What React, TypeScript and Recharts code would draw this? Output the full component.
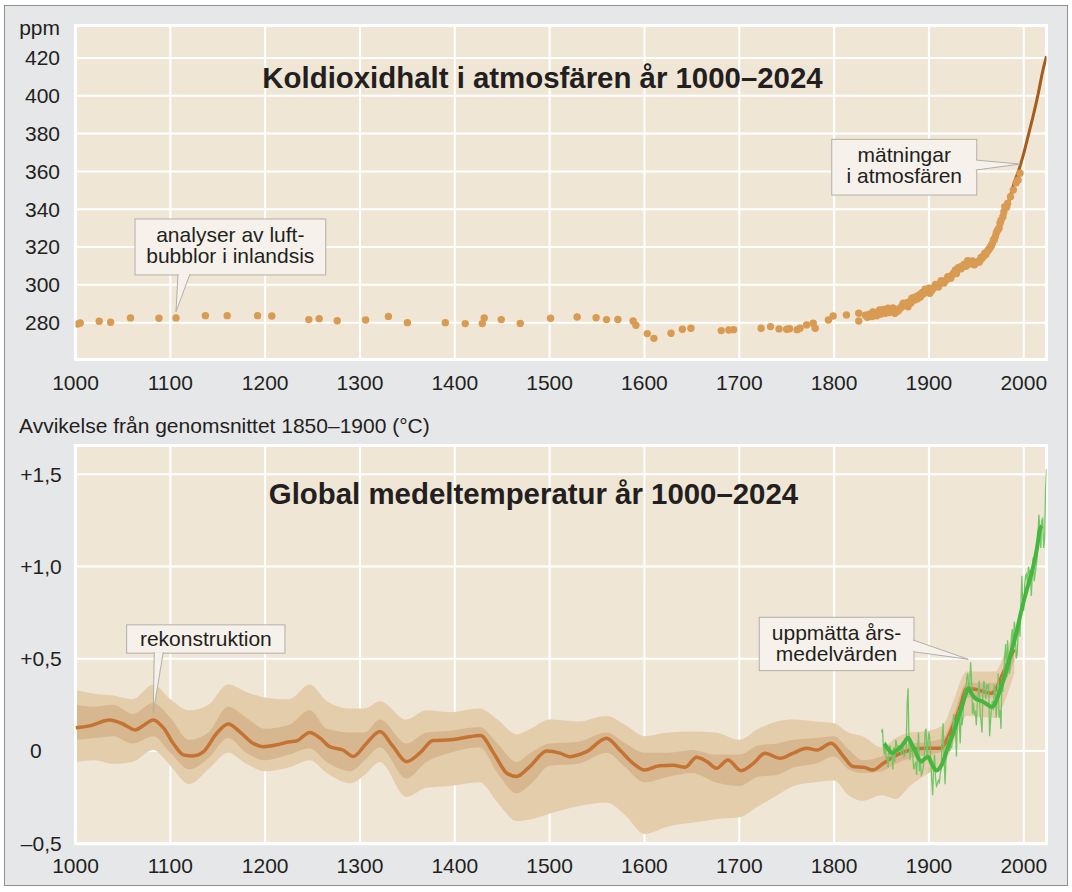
import React from 'react';
import {
  ComposedChart,
  Line,
  Area,
  Scatter,
  XAxis,
  YAxis,
  CartesianGrid,
  ReferenceArea,
  ReferenceDot,
} from 'recharts';

const FONT = '"Liberation Sans", Arial, Helvetica, sans-serif';
const INK = '#231f20';
const FRAME_BG = '#e6e7e8';
const PLOT_BG = '#efe6d6';
const BOX_BG = '#f6f2eb';
const BOX_EDGE = '#b3afa8';

const yearTicks = [1000, 1100, 1200, 1300, 1400, 1500, 1600, 1700, 1800, 1900, 2000];

// --- koldioxid ---
const co2Ticks = [280, 300, 320, 340, 360, 380, 400, 420];

// luftbubblor i inlandsis (punkter)
const iceYears = [
  1002, 1005, 1025, 1037, 1058, 1088, 1106, 1137, 1160, 1192, 1207, 1246, 1257, 1276,
  1306, 1330, 1350, 1390, 1411, 1429, 1431, 1449, 1469, 1501, 1529, 1549, 1560, 1572,
  1588, 1591, 1603, 1610, 1628, 1640, 1649, 1681, 1689, 1694, 1723, 1733, 1742, 1750,
  1753, 1761, 1764, 1771, 1778, 1780, 1794, 1799, 1813, 1826, 1826, 1833, 1837, 1840,
  1843, 1846, 1848, 1851, 1854, 1857, 1860, 1863, 1866, 1869, 1872, 1873, 1877, 1880,
  1882, 1885, 1887, 1890, 1893, 1896, 1899, 1901, 1904, 1906, 1909, 1912, 1914, 1917,
  1919, 1921, 1924, 1926, 1928, 1930, 1933, 1935, 1938, 1940, 1942, 1944, 1947, 1949,
  1952, 1954, 1956, 1959, 1961, 1963, 1964, 1966, 1968, 1970, 1971, 1973, 1975, 1978,
  1980, 1983, 1986, 1989, 1992, 1994, 1996,
  1835, 1841, 1845, 1849, 1852, 1855, 1858, 1862, 1864, 1868, 1871, 1875, 1878, 1881,
  1884, 1888, 1891, 1894, 1897, 1900, 1903, 1907, 1910, 1913, 1916, 1920, 1923, 1927,
  1929, 1931, 1934, 1937, 1939, 1941, 1943, 1946, 1948, 1950, 1953, 1955, 1957, 1958,
  1960, 1962, 1965, 1967, 1969, 1972, 1974, 1976, 1979, 1982,
];
const icePpm = [
  279.3, 279.8, 280.7, 280.2, 282.5, 282.3, 282.5, 283.7, 283.7, 283.7, 283.5, 281.6, 282.1, 281.0,
  281.4, 283.3, 280.0, 280.0, 279.5, 279.5, 282.5, 281.6, 279.6, 282.3, 283.0, 282.6, 281.6, 281.7,
  280.9, 278.6, 274.2, 271.7, 274.4, 276.5, 277.0, 275.8, 276.1, 276.3, 277.0, 277.9, 276.7, 276.5,
  276.8, 276.3, 277.0, 278.8, 279.7, 277.0, 281.4, 283.5, 284.1, 285.0, 280.9, 283.9, 284.5, 283.2,
  284.8, 285.4, 286.7, 285.9, 285.0, 287.6, 286.5, 286.2, 285.8, 287.5, 289.0, 290.3, 290.5, 291.2,
  292.9, 292.0, 293.8, 294.8, 296.0, 297.7, 296.5, 295.5, 298.0, 299.0, 299.6, 300.8, 301.5, 302.0,
  302.9, 303.8, 305.0, 306.2, 307.9, 308.0, 309.3, 309.8, 310.6, 311.7, 311.9, 312.3, 311.0, 311.5,
  312.4, 313.2, 314.0, 316.7, 317.2, 318.6, 319.4, 321.0, 323.7, 325.4, 327.3, 329.5, 332.6, 336.0,
  341.4, 343.0, 346.6, 350.2, 354.0, 355.5, 359.0,
  282.8, 285.6, 283.6, 284.5, 287.0, 286.2, 285.4, 287.8, 285.0, 286.4, 288.2, 289.2, 288.4, 290.4,
  293.2, 292.6, 293.5, 295.2, 296.0, 298.2, 297.0, 300.2, 298.8, 302.2, 301.0, 304.3, 303.5, 306.8,
  306.0, 309.0, 308.5, 310.8, 309.8, 312.8, 311.0, 312.6, 310.6, 311.8, 312.0, 314.5, 314.8, 315.5,
  316.0, 318.0, 320.0, 322.0, 324.0, 328.5, 330.0, 334.0, 338.5, 341.0,
];

// mätningar i atmosfären (linje)
const airYears = [1975, 1980, 1985, 1990, 1995, 2000, 2005, 2010, 2015, 2020, 2024];
const airPpm = [331, 338.5, 345.5, 354, 361, 369.5, 379.5, 389.5, 400.5, 413, 421];

// --- temperatur ---
const tempTicks = [-0.5, 0, 0.5, 1.0, 1.5];

const reconYears = [
  1000, 1015, 1036, 1050, 1063, 1071, 1082, 1093, 1103, 1114, 1124, 1135, 1149, 1161, 1173,
  1187, 1198, 1212, 1226, 1233, 1247, 1258, 1268, 1282, 1293, 1307, 1321, 1335, 1349, 1363,
  1377, 1395, 1412, 1427, 1441, 1455, 1465, 1479, 1497, 1511, 1521, 1539, 1560, 1574, 1588,
  1600, 1616, 1630, 1643, 1655, 1666, 1676, 1688, 1702, 1715, 1727, 1743, 1757, 1771, 1782,
  1797, 1810, 1820, 1831, 1841, 1852, 1866, 1880, 1894, 1912, 1922, 1933, 1940, 1949, 1966,
  1970, 1978, 1987, 1990,
];
const reconTemp = [
  0.126, 0.136, 0.168, 0.146, 0.114, 0.136, 0.168, 0.123, 0.042, -0.022, -0.027, -0.004, 0.096, 0.146, 0.105,
  0.042, 0.023, 0.033, 0.05, 0.054, 0.1, 0.069, 0.023, 0.005, -0.03, 0.042, 0.105, 0.023, -0.058, -0.012,
  0.056, 0.06, 0.074, 0.083, -0.012, -0.121, -0.139, -0.085, 0, -0.012, -0.031, -0.004, 0.069, 0.005, -0.067,
  -0.103, -0.08, -0.078, -0.088, -0.034, -0.058, -0.094, -0.049, -0.107, -0.067, -0.012, -0.04, -0.012, 0.015, 0.005,
  0.042, -0.031, -0.085, -0.088, -0.103, -0.067, -0.022, 0.005, 0.015, 0.015, 0.096, 0.24, 0.34, 0.334, 0.313,
  0.33, 0.42, 0.52, 0.55,
];

const bandYears = [
  1000, 1020, 1040, 1060, 1082, 1100, 1120, 1140, 1161, 1180, 1200, 1225, 1247, 1265, 1290,
  1305, 1321, 1349, 1370, 1395, 1426, 1445, 1465, 1480, 1500, 1530, 1560, 1580, 1600, 1625,
  1650, 1675, 1700, 1720, 1740, 1757, 1780, 1800, 1815, 1830, 1850, 1865, 1880, 1900, 1915,
  1925, 1940, 1970, 1980, 1990,
];
const outerLow = [
  -0.06, -0.05, -0.07, -0.06, 0.005, -0.08, -0.18, -0.1, -0.01, -0.07, -0.11, -0.09, -0.05, -0.12, -0.175,
  -0.13, -0.06, -0.25, -0.2, -0.19, -0.17, -0.28, -0.38, -0.37, -0.34, -0.3, -0.28, -0.35, -0.45, -0.41,
  -0.39, -0.37, -0.36, -0.3, -0.24, -0.19, -0.17, -0.16, -0.24, -0.27, -0.24, -0.26, -0.19, -0.12, -0.08,
  0.03, 0.19, 0.18, 0.27, 0.42,
];
const innerLow = [
  0.06, 0.07, 0.08, 0.04, 0.08, -0.01, -0.1, -0.04, 0.07, -0.01, -0.05, -0.02, 0.015, -0.06, -0.11,
  -0.05, 0.02, -0.15, -0.06, -0.01, 0.02, -0.12, -0.23, -0.18, -0.08, -0.07, -0.01, -0.09, -0.17, -0.14,
  -0.12, -0.17, -0.19, -0.14, -0.13, -0.09, -0.07, -0.03, -0.1, -0.12, -0.11, -0.07, -0.04, -0.02, 0.0,
  0.1, 0.29, 0.29, 0.37, 0.49,
];
const innerHigh = [
  0.25, 0.24, 0.25, 0.2, 0.26, 0.18, 0.06, 0.1, 0.24, 0.18, 0.12, 0.14, 0.22, 0.12, 0.1,
  0.1, 0.17, 0.04, 0.1, 0.11, 0.13, 0.04, -0.06, -0.01, 0.04, 0.05, 0.1, 0.04, -0.01, -0.01,
  0.005, -0.02, -0.02, 0.03, 0.04, 0.06, 0.07, 0.08, 0.01, -0.05, -0.03, 0.02, 0.04, 0.05, 0.07,
  0.18, 0.37, 0.37, 0.46, 0.58,
];
const outerHigh = [
  0.33, 0.31, 0.3, 0.28, 0.36, 0.28, 0.22, 0.25, 0.36, 0.32, 0.29, 0.28, 0.36, 0.27, 0.23,
  0.23, 0.27, 0.17, 0.22, 0.21, 0.23, 0.17, 0.09, 0.12, 0.17, 0.16, 0.19, 0.14, 0.08, 0.1,
  0.105, 0.1, 0.06, 0.12, 0.16, 0.17, 0.16, 0.15, 0.1, 0.08, 0.02, 0.07, 0.1, 0.11, 0.14,
  0.26, 0.43, 0.43, 0.53, 0.64,
];

// uppmätta årsmedelvärden 1850–2024
const annualFirstYear = 1850;
const annualTemp = [
  0.1, 0.12, 0.02, -0.02, 0.05, -0.05, -0.03, -0.09, 0.01, 0.03,
  0.0, -0.03, -0.1, 0.02, -0.06, 0.06, 0.04, -0.01, 0.03, 0.01,
  0.02, -0.02, 0.05, 0.01, -0.03, -0.02, 0.0, 0.25, 0.34, 0.04,
  -0.05, 0.05, 0.01, -0.03, -0.1, -0.08, -0.06, -0.13, -0.02, 0.1,
  -0.11, -0.06, -0.13, -0.12, -0.09, -0.04, 0.11, 0.12, -0.05, 0.05,
  0.1, 0.06, -0.05, -0.16, -0.24, -0.07, -0.02, -0.15, -0.19, -0.18,
  -0.16, -0.17, -0.12, -0.1, 0.08, 0.15, -0.04, -0.18, -0.05, 0.02,
  0.03, 0.08, 0.0, 0.03, 0.02, 0.1, 0.2, 0.12, 0.12, -0.03,
  0.17, 0.22, 0.17, 0.04, 0.2, 0.14, 0.19, 0.3, 0.33, 0.31,
  0.4, 0.42, 0.34, 0.36, 0.48, 0.38, 0.2, 0.26, 0.2, 0.21,
  0.14, 0.25, 0.32, 0.38, 0.2, 0.16, 0.1, 0.33, 0.38, 0.34,
  0.28, 0.36, 0.34, 0.36, 0.08, 0.16, 0.24, 0.27, 0.22, 0.36,
  0.32, 0.18, 0.28, 0.42, 0.18, 0.22, 0.12, 0.4, 0.32, 0.42,
  0.52, 0.58, 0.4, 0.6, 0.44, 0.42, 0.48, 0.62, 0.66, 0.56,
  0.7, 0.66, 0.5, 0.52, 0.62, 0.74, 0.62, 0.8, 0.95, 0.78,
  0.76, 0.9, 0.95, 0.96, 0.9, 1.0, 0.96, 0.98, 0.84, 0.96,
  1.05, 0.92, 0.96, 1.0, 1.04, 1.18, 1.28, 1.2, 1.1, 1.25,
  1.26, 1.1, 1.15, 1.42, 1.53,
];

const smoothYears = [
  1853, 1857, 1861, 1865, 1869, 1874, 1878, 1882, 1885, 1889, 1892, 1896, 1899, 1903, 1908,
  1911, 1914, 1920, 1926, 1931, 1936, 1939, 1942, 1945, 1949, 1953, 1957, 1962, 1966, 1969,
  1972, 1977, 1982, 1987, 1992, 1997, 2003, 2007, 2010, 2014, 2017, 2019,
];
const smoothTemp = [
  0.04, 0.01, -0.012, 0.0, 0.015, 0.045, 0.072, 0.035, 0.005, -0.04, -0.058, -0.04, -0.031, -0.07, -0.106,
  -0.095, -0.07, 0.02, 0.1, 0.18, 0.26, 0.31, 0.34, 0.31, 0.285, 0.275, 0.267, 0.25, 0.238, 0.25,
  0.285, 0.36, 0.44, 0.54, 0.635, 0.75, 0.87, 0.94, 1.0, 1.1, 1.2, 1.22,
];

type TempRow = {
  year: number;
  recon?: number;
  outer?: [number, number];
  inner?: [number, number];
  annual?: number;
  smooth?: number;
};

function buildTempRows(): TempRow[] {
  const rows = new Map<number, TempRow>();
  const at = (y: number) => {
    let r = rows.get(y);
    if (!r) {
      r = { year: y };
      rows.set(y, r);
    }
    return r;
  };
  reconYears.forEach((y, i) => { at(y).recon = reconTemp[i]; });
  bandYears.forEach((y, i) => {
    at(y).outer = [outerLow[i], outerHigh[i]];
    at(y).inner = [innerLow[i], innerHigh[i]];
  });
  annualTemp.forEach((v, i) => { at(annualFirstYear + i).annual = v; });
  smoothYears.forEach((y, i) => { at(y).smooth = smoothTemp[i]; });
  return [...rows.values()].sort((a, b) => a.year - b.year);
}

const iceRows = iceYears.map((year, i) => ({ year, ppm: icePpm[i] }));
const airRows = airYears.map((year, i) => ({ year, ppm: airPpm[i] }));
const tempRows = buildTempRows();

const tickStyle = { fill: INK, fontSize: 21, fontFamily: FONT };

type CalloutSpec = {
  box: [number, number, number, number]; // left, top, width, height relative to tip
  base: [number, number, number, number]; // two points where the tail meets the box
  textX: number;
  baselines: number[];
  lines: string[];
};

const Callout = ({ cx, cy, spec }: { cx: number; cy: number; spec: CalloutSpec }) => {
  const [l, t, w, h] = spec.box;
  const [ax, ay, bx, by] = spec.base;
  const pts = `${cx + ax},${cy + ay} ${cx},${cy} ${cx + bx},${cy + by}`;
  return (
    <g>
      <rect x={cx + l} y={cy + t} width={w} height={h} fill={BOX_BG} stroke={BOX_EDGE} strokeWidth={1} />
      <polygon points={pts} fill={BOX_BG} stroke="none" />
      <polyline points={pts} fill="none" stroke={BOX_EDGE} strokeWidth={1} />
      {spec.lines.map((s, i) => (
        <text
          key={s}
          x={cx + spec.textX}
          y={cy + spec.baselines[i]}
          textAnchor="middle"
          fontSize={21}
          fontFamily={FONT}
          fill={INK}
        >
          {s}
        </text>
      ))}
    </g>
  );
};

const iceNote: CalloutSpec = {
  box: [-41, -92.7, 190.7, 56],
  base: [2, -37.7, 14, -37.7],
  textX: 54.3,
  baselines: [-70, -49],
  lines: ['analyser av luft-', 'bubblor i inlandsis'],
};
const airNote: CalloutSpec = {
  box: [-188.3, -24.7, 145, 55.7],
  base: [-44.3, -4, -44.3, 6],
  textX: -115.8,
  baselines: [-2.3, 19.3],
  lines: ['mätningar', 'i atmosfären'],
};
const reconNote: CalloutSpec = {
  box: [-26.6, -87.7, 158.3, 28.3],
  base: [1, -60.4, 10, -60.4],
  textX: 52.6,
  baselines: [-66.7],
  lines: ['rekonstruktion'],
};
const measuredNote: CalloutSpec = {
  box: [-209, -42, 154.7, 53.4],
  base: [-55.3, -19.3, -55.3, -7.6],
  textX: -131.7,
  baselines: [-19.3, 1.4],
  lines: ['uppmätta års-', 'medelvärden'],
};

const TempTick = (props: any) => {
  const { x, y, payload } = props;
  const v = payload.value as number;
  const label = v === 0 ? '0' : (v > 0 ? '+' : '–') + Math.abs(v).toFixed(1).replace('.', ',');
  return (
    <text
      x={v === 0 ? x - 20 : x}
      y={y}
      dy="0.355em"
      textAnchor="end"
      fontSize={21}
      fontFamily={FONT}
      fill={INK}
    >
      {label}
    </text>
  );
};

const CO2_DOMAIN: [number, number] = [260.5, 437.2];
const TEMP_DOMAIN: [number, number] = [-0.503, 1.656];

export default function App() {
  return (
    <div style={{ position: 'absolute', left: 0, top: 0, width: 1072, height: 892, background: '#fff', fontFamily: FONT }}>
      <div
        style={{
          position: 'absolute',
          left: 4,
          top: 5,
          width: 1063.5,
          height: 881,
          boxSizing: 'border-box',
          border: '1.5px solid #8f8f8f',
          background: FRAME_BG,
        }}
      />

      <div style={{ position: 'absolute', left: 0, top: 0 }}>
        <ComposedChart width={1072} height={400} margin={{ top: 25.5, right: 25.5, bottom: 10.5, left: 0 }}>
          <CartesianGrid stroke="#fff" strokeWidth={2} fill={PLOT_BG} fillOpacity={1} />
          <XAxis
            type="number"
            dataKey="year"
            domain={[1000, 2024]}
            ticks={yearTicks}
            interval={0}
            allowDataOverflow
            axisLine={false}
            tickLine={false}
            tickSize={0}
            tickMargin={15.5}
            height={30}
            tick={tickStyle}
          />
          <YAxis
            type="number"
            dataKey="ppm"
            domain={CO2_DOMAIN}
            ticks={co2Ticks}
            interval={0}
            allowDataOverflow
            axisLine={false}
            tickLine={false}
            tickSize={0}
            tickMargin={15.5}
            width={75.5}
            tick={tickStyle}
          />
          <ReferenceArea x1={1000} x2={2024} y1={CO2_DOMAIN[0]} y2={CO2_DOMAIN[1]} fill="none" stroke="#fff" strokeWidth={3} />
          <Scatter
            data={iceRows}
            fill="#d99a52"
            isAnimationActive={false}
            shape={(p: any) => <circle cx={p.cx} cy={p.cy} r={3.7} fill="#d99a52" />}
          />
          <Line
            data={airRows}
            dataKey="ppm"
            type="monotone"
            stroke="#a65b1f"
            strokeWidth={3}
            dot={false}
            activeDot={false}
            isAnimationActive={false}
          />
          <ReferenceDot x={1106} y={285.8} r={0} ifOverflow="visible" shape={(p: any) => <Callout cx={p.cx} cy={p.cy} spec={iceNote} />} />
          <ReferenceDot x={1996.1} y={363.9} r={0} ifOverflow="visible" shape={(p: any) => <Callout cx={p.cx} cy={p.cy} spec={airNote} />} />
        </ComposedChart>
      </div>

      <div style={{ position: 'absolute', left: 0, top: 400 }}>
        <ComposedChart width={1072} height={492} data={tempRows} margin={{ top: 45.5, right: 25.5, bottom: 18.3, left: 0 }}>
          <CartesianGrid stroke="#fff" strokeWidth={2} fill={PLOT_BG} fillOpacity={1} />
          <XAxis
            type="number"
            dataKey="year"
            domain={[1000, 2024]}
            ticks={yearTicks}
            interval={0}
            allowDataOverflow
            axisLine={false}
            tickLine={false}
            tickSize={0}
            tickMargin={14.6}
            height={30}
            tick={tickStyle}
          />
          <YAxis
            type="number"
            domain={TEMP_DOMAIN}
            ticks={tempTicks}
            interval={0}
            allowDataOverflow
            axisLine={false}
            tickLine={false}
            tickSize={0}
            tickMargin={13.8}
            width={75.5}
            tick={<TempTick />}
          />
          <Area dataKey="outer" type="monotone" fill="#e4cdab" fillOpacity={1} stroke="none" connectNulls dot={false} activeDot={false} isAnimationActive={false} />
          <Area dataKey="inner" type="monotone" fill="#d6b78f" fillOpacity={1} stroke="none" connectNulls dot={false} activeDot={false} isAnimationActive={false} />
          <ReferenceArea x1={1000} x2={2024} y1={TEMP_DOMAIN[0]} y2={TEMP_DOMAIN[1]} fill="none" stroke="#fff" strokeWidth={3} />
          <Line dataKey="recon" type="monotone" stroke="#c57332" strokeWidth={3.5} connectNulls dot={false} activeDot={false} isAnimationActive={false} />
          <Line dataKey="annual" type="linear" stroke="#74c665" strokeWidth={1.3} connectNulls dot={false} activeDot={false} isAnimationActive={false} />
          <Line dataKey="smooth" type="monotone" stroke="#45b63e" strokeWidth={4} connectNulls dot={false} activeDot={false} isAnimationActive={false} />
          <ReferenceDot x={1082} y={0.208} r={0} ifOverflow="visible" shape={(p: any) => <Callout cx={p.cx} cy={p.cy} spec={reconNote} />} />
          <ReferenceDot x={1941.5} y={0.497} r={0} ifOverflow="visible" shape={(p: any) => <Callout cx={p.cx} cy={p.cy} spec={measuredNote} />} />
        </ComposedChart>
      </div>

      <svg width={1072} height={892} style={{ position: 'absolute', left: 0, top: 0, pointerEvents: 'none' }}>
        <text x={60} y={34.5} textAnchor="end" fontSize={21} fontFamily={FONT} fill={INK}>ppm</text>
        <text x={542.5} y={88.3} textAnchor="middle" fontSize={29.4} fontWeight="bold" fontFamily={FONT} fill={INK}>
          Koldioxidhalt i atmosfären år 1000–2024
        </text>
        <text x={19} y={432.7} fontSize={21} fontFamily={FONT} fill={INK}>
          Avvikelse från genomsnittet 1850–1900 (°C)
        </text>
        <text x={533.5} y={504.3} textAnchor="middle" fontSize={29.4} fontWeight="bold" fontFamily={FONT} fill={INK}>
          Global medeltemperatur år 1000–2024
        </text>
      </svg>
    </div>
  );
}
